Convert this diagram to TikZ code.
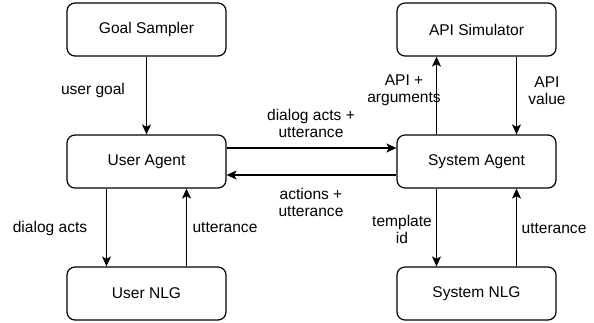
\documentclass[tikz,border=0pt]{standalone}
\usepackage{fontspec}
\setmainfont{Liberation Sans}
\usetikzlibrary{arrows.meta}
\begin{document}
\begin{tikzpicture}[x=1bp,y=-1bp,
  box/.style={draw, line width=1.2bp, rounded corners=8bp, minimum width=159bp, minimum height=53bp, inner sep=0pt, font=\fontsize{15.6}{18}\selectfont},
  lbl/.style={font=\fontsize{15.6}{17.5}\selectfont, align=center, inner sep=0pt},
  conn/.style={line width=1.2bp, -{Stealth[length=10bp,width=9bp,inset=2.5bp]}}]
\useasboundingbox (0,0) rectangle (594,322);
\node[box] (goal) at (146.5,29.5) {Goal Sampler};
\node[box] (user) at (146.5,161.5) {User Agent};
\node[box] (unlg) at (146.5,293.5) {User NLG};
\node[box] (api) at (476.5,29.5) {API Simulator};
\node[box] (sys) at (476.5,161.5) {System Agent};
\node[box] (snlg) at (476.5,293.5) {System NLG};
% vertical connectors
\draw[conn] (goal.south) -- (user.north);
\draw[conn] ([xshift=-40bp]user.south) -- ([xshift=-40bp]unlg.north);
\draw[conn] ([xshift=40bp]unlg.north) -- ([xshift=40bp]user.south);
\draw[conn] ([xshift=-40bp]sys.north) -- ([xshift=-40bp]api.south);
\draw[conn] ([xshift=40bp]api.south) -- ([xshift=40bp]sys.north);
\draw[conn] ([xshift=-40bp]sys.south) -- ([xshift=-40bp]snlg.north);
\draw[conn] ([xshift=40bp]snlg.north) -- ([xshift=40bp]sys.south);
% horizontal connectors
\draw[conn] ([yshift=13.5bp]user.east) -- ([yshift=13.5bp]sys.west);
\draw[conn] ([yshift=-13.5bp]sys.west) -- ([yshift=-13.5bp]user.east);
% labels
\node[lbl] (l1) at (93,90) {user goal};
\node[lbl] (l2) at (50,228) {dialog acts};
\node[lbl] (l3) at (225,228) {utterance};
\node[lbl] (l4) at (311,123.5) {dialog acts +\\utterance};
\node[lbl] (l5) at (311,202.5) {actions +\\utterance};
\node[lbl] (l6) at (404,90.5) {API +\\arguments};
\node[lbl] (l7) at (547,90.5) {API\\value};
\node[lbl] (l8) at (402,229.5) {template\\id};
\node[lbl] (l9) at (554,229) {utterance};
\end{tikzpicture}
\end{document}
